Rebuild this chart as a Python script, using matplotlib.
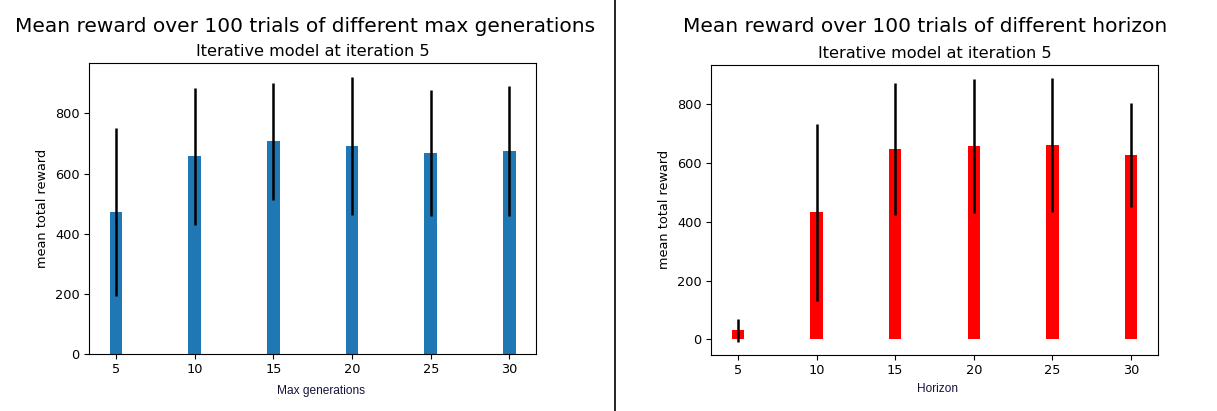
import matplotlib
matplotlib.use("Agg")
import matplotlib.pyplot as plt
from matplotlib.lines import Line2D

# values
max_generations = [5, 10, 15, 20, 25, 30]
gen_mean = [473, 657, 708, 691, 669, 676]
gen_std = [280, 228, 195, 230, 210, 216]

horizons = [5, 10, 15, 20, 25, 30]
hor_mean = [32, 431, 646, 657, 660, 626]
hor_std = [39, 299, 224, 227, 228, 178]

W, H = 1217, 411
fig = plt.figure(figsize=(W / 100, H / 100), dpi=100)


def px_axes(left, top, right, bottom):
    return fig.add_axes([left / W, 1 - bottom / H, (right - left) / W, (bottom - top) / H])


def draw_panel(ax, x, mean, std, color, xlabel, label_x, label_y):
    ax.bar(x, mean, yerr=std, color=color, width=0.8,
           error_kw=dict(ecolor="black", elinewidth=1.8))
    ax.set_xticks(x)
    ax.tick_params(labelsize=9.3)
    ax.set_ylabel("mean total reward", fontsize=9.3)
    ax.set_title("Iterative model at iteration 5", fontsize=11.6, pad=5)
    ax.set_xlabel(xlabel, fontsize=8.6, family="Liberation Sans", color="#14143c")
    ax.xaxis.set_label_coords(label_x, label_y)


ax1 = px_axes(89.3, 63.3, 536, 353.7)
draw_panel(ax1, max_generations, gen_mean, gen_std, "#1f77b4", "Max generations", 0.519, -0.108)

ax2 = px_axes(711.3, 64.7, 1157.7, 354.7)
draw_panel(ax2, horizons, hor_mean, hor_std, "red", "Horizon", 0.507, -0.097)

fig.text(305 / W, 1 - 26 / H, "Mean reward over 100 trials of different max generations",
         fontsize=14.5, ha="center", va="center")
fig.text(925 / W, 1 - 27 / H, "Mean reward over 100 trials of different horizon",
         fontsize=14.5, ha="center", va="center")

# divider between the two images
fig.add_artist(Line2D([615.3 / W, 615.3 / W], [0, 1], color="black", lw=1.2,
                      transform=fig.transFigure))

fig.savefig("out.png", dpi=100)
